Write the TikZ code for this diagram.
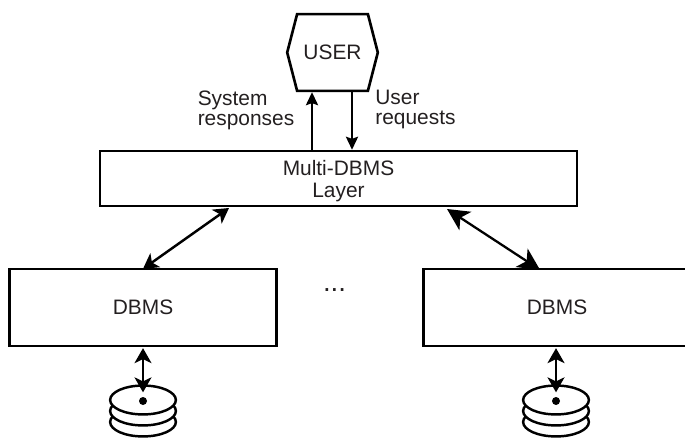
\documentclass[tikz,border=0pt]{standalone}
\usepackage{fontspec}
\setmainfont{Liberation Sans}
\usetikzlibrary{calc}
\usetikzlibrary{positioning}
\usetikzlibrary{shapes}
\usetikzlibrary{arrows.meta}
\definecolor{inktext}{HTML}{231F20}

\tikzset{
	label text/.style={text=inktext, font=\fontsize{11.9}{11.2}\selectfont, align=left, inner sep=0pt},
	box/.style={rectangle, draw, line width=1.5pt, text=inktext, font=\fontsize{11.9}{12.5}\selectfont, align=center, inner sep=0pt},
	flow/.style={line width=1.5pt, -{Stealth[length=13*0.5669pt, width=12*0.5669pt, inset=2*0.5669pt]}},
	both/.style={line width=1.4pt, {Stealth[length=15*0.5669pt, width=17*0.5669pt, inset=4*0.5669pt]}-{Stealth[length=15*0.5669pt, width=17*0.5669pt, inset=4*0.5669pt]}},
	wide both/.style={line width=1.3pt, {Stealth[length=22*0.5669pt, width=22*0.5669pt, inset=6*0.5669pt]}-{Stealth[length=22*0.5669pt, width=22*0.5669pt, inset=6*0.5669pt]}},
	disk/.style={ellipse, draw, line width=1.4pt, minimum width=66*0.5669pt, minimum height=29*0.5669pt, inner sep=0pt, fill=white}
}

\begin{document}
\begin{tikzpicture}[x=0.02cm, y=-0.02cm]
	\clip (0,0) rectangle (685,438);

	\node[box, shape=signal, signal to=east and west, signal from=nowhere, signal pointer angle=151, minimum width=91*0.5669pt, minimum height=77*0.5669pt] (user) at (332.5,52.5) {USER};
	\node[box, minimum width=479*0.5669pt, minimum height=55*0.5669pt] (layer) at (338.5,178.5) {\rule{0pt}{11.6pt}Multi-DBMS\\Layer};
	\node[box, minimum width=268*0.5669pt, minimum height=77*0.5669pt] (dbms1) at (143,307.5) {DBMS};
	\node[box, minimum width=268*0.5669pt, minimum height=77*0.5669pt] (dbms2) at (557,307.5) {DBMS};
	\node[label text] (system) at (246,110.5) {System\\responses};
	\node[label text, anchor=west] (requests) at (375,109.5) {User\\requests};
	\node[text=inktext, font=\fontsize{15.7}{16}\selectfont, inner sep=0pt, anchor=base] (dots) at (334.5,292) {...};

	\draw[flow] ($(layer.north)+(-26.5,0)$) -- ($(user.south)+(-20.5,0)$);
	\draw[flow] ($(user.south)+(19.5,0)$) -- ($(layer.north)+(13.5,0)$);

	\draw[both] (229,208) -- ($(dbms1.north)+(0,1)$);
	\draw[wide both] (447,209) -- ($(dbms2.north)+(-17,2)$);

	% stacked platters, drawn bottom to top
	\foreach \name/\xpos in {a/143, b/556} {
		\foreach \off in {22,11} {
			\node[disk] at (\xpos,400+\off) {};
		}
		\node[disk] (disk\name) at (\xpos,400) {};
		\fill (\xpos,401) circle (4);
	}

	\draw[both] ($(dbms1.south)+(0,1)$) -- ($(diska.north)+(0,8)$);
	\draw[both] ($(dbms2.south)+(-1,1)$) -- ($(diskb.north)+(0,8)$);
\end{tikzpicture}
\end{document}
